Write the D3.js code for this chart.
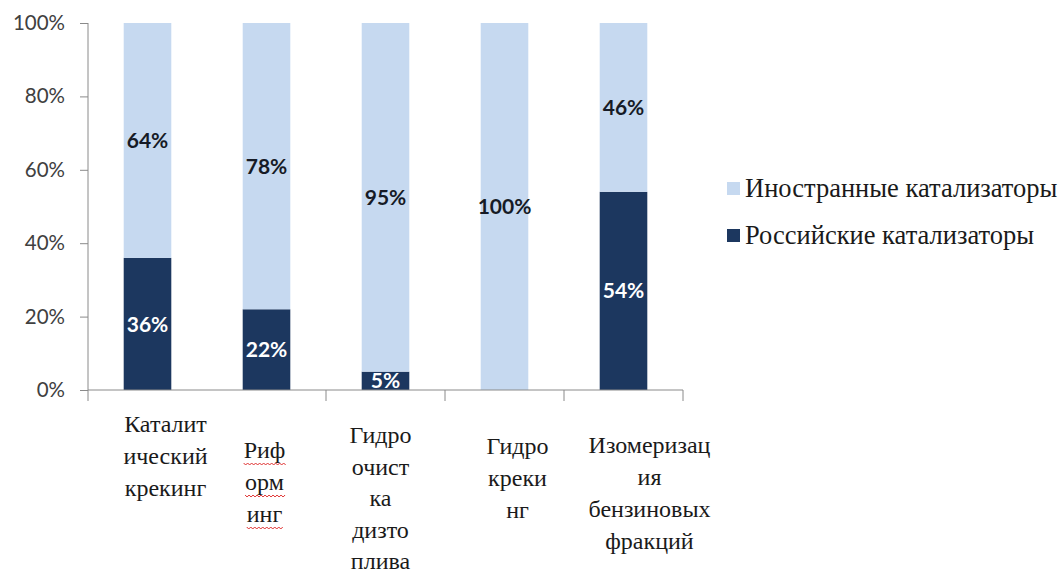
<!DOCTYPE html>
<html>
<head>
<meta charset="utf-8">
<script src="https://cdn.jsdelivr.net/npm/d3@7"></script>
<style>
  html, body { margin: 0; padding: 0; background: #ffffff; }
  svg { display: block; }
</style>
</head>
<body>
<svg id="chart" width="1063" height="577"></svg>
<script>
// ---- data ----
const categories = ["Каталитический крекинг", "Риформинг", "Гидроочистка дизтоплива", "Гидрокрекинг", "Изомеризация бензиновых фракций"];
const categoryLabelLines = [
  ["Каталит", "ический", "крекинг"],
  ["Риф", "орм", "инг"],
  ["Гидро", "очист", "ка", "дизто", "плива"],
  ["Гидро", "креки", "нг"],
  ["Изомеризац", "ия", "бензиновых", "фракций"]
];
const russianValues = [36, 22, 5, 0, 54];
const foreignValues = [64, 78, 95, 100, 46];
const seriesNames = ["Иностранные катализаторы", "Российские катализаторы"];
const yTickValues = [0, 20, 40, 60, 80, 100];

// ---- layout / style ----
const colors = { foreign: "#c6d9f0", russian: "#1c375f", axis: "#8a8a8a" };
const plot = { left: 88, right: 683, top: 23, bottom: 390 };
// text-box placement of category labels, as in the original document
const labelDx = [18, -2, -5, 13, 26];
const labelBaseline = [432, 458, 443, 454, 453];
const lineStep = [32, 32, 31.5, 32, 32];
const serif = "Liberation Serif";
const sans = "Lato";

const svg = d3.select("#chart");

const x = d3.scaleBand().domain(categories).range([plot.left, plot.right]).paddingInner(0.6).paddingOuter(0.3);
const y = d3.scaleLinear().domain([0, 100]).range([plot.bottom, plot.top]);

const rows = categories.map((c, i) => ({ cat: c, ru: russianValues[i], fo: foreignValues[i], i }));

// bars
const g = svg.append("g");
g.selectAll("rect.ru").data(rows).join("rect").attr("class", "ru")
  .attr("x", d => x(d.cat)).attr("width", x.bandwidth())
  .attr("y", d => y(d.ru)).attr("height", d => y(0) - y(d.ru))
  .attr("fill", colors.russian);
g.selectAll("rect.fo").data(rows).join("rect").attr("class", "fo")
  .attr("x", d => x(d.cat)).attr("width", x.bandwidth())
  .attr("y", d => y(d.ru + d.fo)).attr("height", d => y(d.ru) - y(d.ru + d.fo))
  .attr("fill", colors.foreign);

// y axis
const yAxis = d3.axisLeft(y).tickValues(yTickValues).tickFormat(d => d + "%").tickSize(8).tickPadding(15);
const ya = svg.append("g").attr("transform", `translate(${plot.left},0)`).call(yAxis);
ya.select(".domain").attr("stroke", colors.axis).attr("d", `M0,${y(100)}V${y(0) + 11}`);
ya.selectAll(".tick line").attr("stroke", colors.axis);
ya.selectAll(".tick text").attr("fill", "#404040").attr("font-family", sans).attr("font-size", 20.5);

// x axis line with category-boundary ticks
const xAxisY = y(0);
svg.append("line").attr("x1", plot.left).attr("x2", plot.right).attr("y1", xAxisY).attr("y2", xAxisY).attr("stroke", colors.axis);
const boundaries = categories.slice(1).map(c => x(c) - x.step() * x.paddingInner() / 2).concat([plot.right]);
// the first inner boundary tick is hidden behind the first label's text box in the original
svg.selectAll("line.xt").data(boundaries.slice(1)).join("line").attr("class", "xt")
  .attr("x1", d => d).attr("x2", d => d).attr("y1", xAxisY).attr("y2", xAxisY + 11)
  .attr("stroke", colors.axis);

// value labels
g.selectAll("text.fo").data(rows.filter(d => d.fo > 0)).join("text").attr("class", "fo")
  .attr("x", d => x(d.cat) + x.bandwidth() / 2)
  .attr("y", d => (y(d.ru) + y(d.ru + d.fo)) / 2)
  .attr("dy", "0.36em").attr("text-anchor", "middle")
  .attr("fill", "#161b26").attr("font-family", sans).attr("font-weight", "bold").attr("font-size", 21)
  .text(d => d.fo + "%");
g.selectAll("text.ru").data(rows.filter(d => d.ru > 0)).join("text").attr("class", "ru")
  .attr("x", d => x(d.cat) + x.bandwidth() / 2)
  .attr("y", d => (y(0) + y(d.ru)) / 2)
  .attr("dy", "0.36em").attr("text-anchor", "middle")
  .attr("fill", "#ffffff").attr("font-family", sans).attr("font-weight", "bold").attr("font-size", 21)
  .text(d => d.ru + "%");

// category labels
const catG = svg.append("g");
rows.forEach((d, i) => {
  const cx = x(d.cat) + x.bandwidth() / 2 + labelDx[i];
  categoryLabelLines[i].forEach((t, k) => {
    const ty = labelBaseline[i] + k * lineStep[i];
    const txt = catG.append("text").attr("x", cx).attr("y", ty).attr("text-anchor", "middle")
      .attr("font-family", serif).attr("font-size", 24).attr("fill", "#1a1a1a").text(t);
    if (i === 1) {
      // spell-check wavy underline, as in the original screenshot
      const w = txt.node().getComputedTextLength();
      const x0 = cx - w / 2, yy = ty + 5;
      let p = `M${x0},${yy}`;
      for (let s = 0, k2 = 0; s < w; s += 2, k2++) p += `l2,${k2 % 2 === 0 ? 2 : -2}`;
      catG.append("path").attr("d", p).attr("fill", "none").attr("stroke", "#e03030").attr("stroke-width", 1);
    }
  });
});

// legend
const legend = svg.append("g");
const legendItems = [
  { name: seriesNames[0], color: colors.foreign, baseline: 197 },
  { name: seriesNames[1], color: colors.russian, baseline: 244 }
];
legendItems.forEach(it => {
  legend.append("rect").attr("x", 727).attr("y", it.baseline - 15).attr("width", 13).attr("height", 13).attr("fill", it.color);
  legend.append("text").attr("x", 745).attr("y", it.baseline)
    .attr("font-family", serif).attr("font-size", 26.5).attr("fill", "#1a1a1a").text(it.name);
});
</script>
</body>
</html>
